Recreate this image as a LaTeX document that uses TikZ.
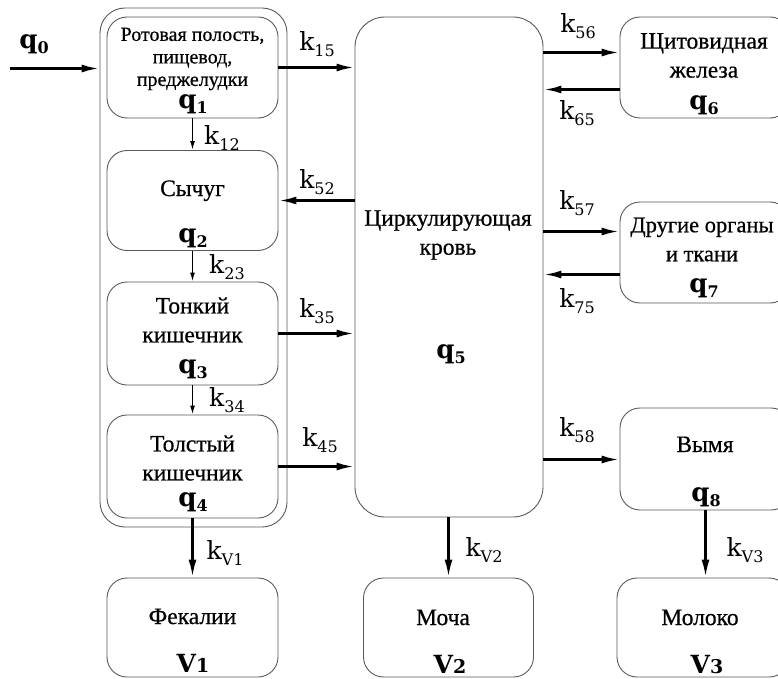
\documentclass[tikz,border=0pt]{standalone}
\usepackage{fontspec}
\setmainfont{Liberation Serif}[FakeBold=0.6]
\newfontfamily\lblfont{DejaVu Serif}
\usetikzlibrary{arrows.meta}
\newcommand\qlab[1]{{\lblfont\bfseries\fontsize{26}{26}\selectfont q\raisebox{-5pt}{\fontsize{16}{16}\selectfont #1}}}
\newcommand\klab[1]{{\lblfont\fontsize{25}{25}\selectfont k\raisebox{-6pt}{\fontsize{16}{16}\selectfont #1}}}
\newcommand\vlab[1]{{\lblfont\bfseries\fontsize{25}{25}\selectfont V\fontsize{19}{19}\selectfont #1}}
\begin{document}
\begin{tikzpicture}[x=1pt,y=-1pt,
  box/.style={draw=black!65, line width=0.9pt, rounded corners=20pt, minimum width=171pt, inner sep=0pt},
  txt/.style={font=\fontsize{23.5}{29}\selectfont, align=center, inner sep=0pt},
  smtxt/.style={font=\fontsize{20}{22.5}\selectfont, align=center, inner sep=0pt},
  lbl/.style={inner sep=0pt},
  bigarr/.style={draw=black, line width=2.7pt, -{Latex[length=18pt,width=8pt]}},
  smallarr/.style={draw=black, line width=1.4pt, -{Latex[length=9pt,width=5pt]}}]
\useasboundingbox (0,0) rectangle (778,679);
\begin{scope}
\clip (0,0) rectangle (778,679);
% boxes
\node[box, rounded corners=25pt, minimum width=187pt, minimum height=519pt] (outer) at (193.5,267.5) {};
\node[box, minimum height=101pt] (b1) at (192.5,67.5) {};
\node[box, minimum height=100pt] (b2) at (192.5,200.5) {};
\node[box, minimum height=103pt] (b3) at (192.5,333.5) {};
\node[box, minimum height=103pt] (b4) at (192.5,466.5) {};
\node[box, minimum height=99pt] (v1) at (192.5,627.5) {};
\node[box, rounded corners=30pt, minimum width=188pt, minimum height=500pt] (b5) at (449,267) {};
\node[box, minimum width=170pt, minimum height=101pt] (b6) at (705,67.5) {};
\node[box, minimum width=170pt, minimum height=101pt] (b7) at (705,252.5) {};
\node[box, minimum width=171pt, minimum height=102pt] (b8) at (705.5,459) {};
\node[box, minimum width=170pt, minimum height=99pt] (v2) at (448.5,627.5) {};
\node[box, minimum width=172pt, minimum height=99pt] (v3) at (703,627.5) {};
\end{scope}
% texts
\node[smtxt] (t1) at (192.5,59) {Ротовая полость,\\ пищевод,\\ преджелудки};
\node[txt, anchor=base] (t2) at (192.5,196) {Сычуг};
\node[txt] (t3) at (192.5,320) {Тонкий\\ кишечник};
\node[txt] (t4) at (192.5,458) {Толстый\\ кишечник};
\node[txt, anchor=base] (tv1) at (192.5,624) {Фекалии};
\node[txt] (t5) at (448,235) {Циркулирующая\\ кровь};
\node[txt] (t6) at (704,55.5) {Щитовидная\\ железа};
\node[txt, font=\fontsize{22.5}{29}\selectfont] (t7) at (702,239.5) {Другие органы\\ и ткани};
\node[txt, anchor=base] (t8) at (705,452) {Вымя};
\node[txt, anchor=base] (tv2) at (443,625) {Моча};
\node[txt, anchor=base] (tv3) at (700,625) {Молоко};
% q labels
\node[lbl] (q1) at (193,104) {\qlab{1}};
\node[lbl] (q2) at (193,238) {\qlab{2}};
\node[lbl] (q3) at (193,369) {\qlab{3}};
\node[lbl] (q4) at (193,502) {\qlab{4}};
\node[lbl] (q5) at (451,354) {\qlab{5}};
\node[lbl] (q6) at (704,105) {\qlab{6}};
\node[lbl] (q7) at (704,288) {\qlab{7}};
\node[lbl] (q8) at (706,497) {\qlab{8}};
\node[lbl, anchor=base] (lv1) at (193,672) {\vlab{1}};
\node[lbl, anchor=base] (lv2) at (450,673) {\vlab{2}};
\node[lbl, anchor=base] (lv3) at (707,673) {\vlab{3}};
% rate labels
\node[lbl] (q0) at (34,44) {\qlab{0}};
\node[lbl] (k15) at (317,44) {\klab{15}};
\node[lbl] (k12) at (222,138) {\klab{12}};
\node[lbl] (k52) at (317,182) {\klab{52}};
\node[lbl] (k23) at (227,267) {\klab{23}};
\node[lbl] (k35) at (317,311) {\klab{35}};
\node[lbl] (k34) at (227,400) {\klab{34}};
\node[lbl] (k45) at (320,440) {\klab{45}};
\node[lbl] (kv1) at (225,553) {\klab{V1}};
\node[lbl] (k56) at (578,26) {\klab{56}};
\node[lbl] (k65) at (577,113) {\klab{65}};
\node[lbl] (k57) at (577,203) {\klab{57}};
\node[lbl] (k75) at (577,301) {\klab{75}};
\node[lbl] (k58) at (577,430) {\klab{58}};
\node[lbl] (kv2) at (484,550) {\klab{V2}};
\node[lbl] (kv3) at (745,550) {\klab{V3}};
% helper coordinates on box borders
\coordinate (src) at (10,68.5);
\coordinate (e56) at ([yshift=214.5pt]b5.east);
\coordinate (e65) at ([yshift=177.5pt]b5.east);
\coordinate (e57) at ([yshift=35.5pt]b5.east);
\coordinate (e75) at ([yshift=-7.5pt]b5.east);
\coordinate (e58) at ([yshift=-192.5pt]b5.east);
% connectors
\draw[bigarr] (src) -- (src -| outer.west);
\draw[bigarr] (b1.east) -- (b1.east -| b5.west);
\draw[bigarr] (b2.east -| b5.west) -- (b2.east);
\draw[bigarr] (b3.east) -- (b3.east -| b5.west);
\draw[bigarr] (b4.east) -- (b4.east -| b5.west);
\draw[smallarr] (b1.south) -- (b2.north);
\draw[smallarr] (b2.south) -- (b3.north);
\draw[smallarr] (b3.south) -- (b4.north);
\draw[bigarr] (b4.south) -- (v1.north);
\draw[bigarr] (e56) -- (e56 -| b6.west);
\draw[bigarr] (e65 -| b6.west) -- (e65);
\draw[bigarr] (e57) -- (e57 -| b7.west);
\draw[bigarr] (e75 -| b7.west) -- (e75);
\draw[bigarr] (e58) -- (e58 -| b8.west);
\draw[bigarr] (v2.north |- b5.south) -- (v2.north);
\draw[bigarr] (b8.south) -- (b8.south |- v3.north);
\end{tikzpicture}
\end{document}
